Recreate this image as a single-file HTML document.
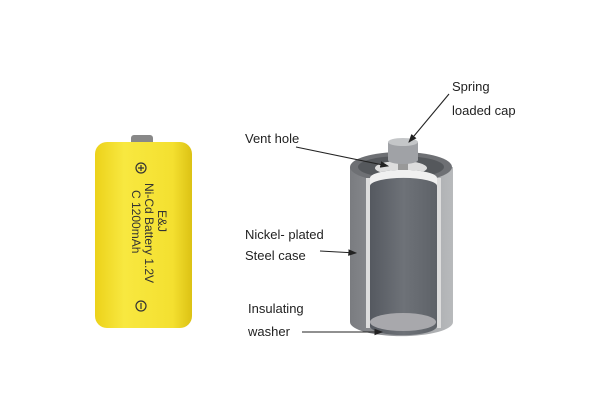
<!DOCTYPE html>
<html><head><style>
body{margin:0;width:600px;height:400px;background:#fff;overflow:hidden;font-family:"Liberation Sans",sans-serif}
</style></head><body>
<svg width="600" height="400" xmlns="http://www.w3.org/2000/svg">
<defs>
<linearGradient id="y" x1="0" x2="1"><stop offset="0" stop-color="#ecd21a"/><stop offset=".3" stop-color="#f8e840"/><stop offset=".8" stop-color="#f4e030"/><stop offset="1" stop-color="#dcc214"/></linearGradient>
<linearGradient id="g" x1="0" x2="1"><stop offset="0" stop-color="#7a7c80"/><stop offset=".5" stop-color="#9a9ca0"/><stop offset="1" stop-color="#b8babc"/></linearGradient>
<linearGradient id="in" x1="0" x2="1"><stop offset="0" stop-color="#555960"/><stop offset=".5" stop-color="#6e7278"/><stop offset="1" stop-color="#5e6268"/></linearGradient>
<marker id="a" markerWidth="8" markerHeight="8" refX="7" refY="4" orient="auto"><path d="M0,1 L8,4 L0,7z" fill="#222"/></marker>
</defs>
<rect x="131" y="135" width="22" height="10" rx="3" fill="#888"/>
<rect x="95" y="142" width="97" height="186" rx="12" fill="url(#y)"/>
<g fill="#333">
<circle cx="141" cy="168" r="5" fill="none" stroke="#333" stroke-width="1.2"/><path d="M138,168h6M141,165v6" stroke="#333" stroke-width="1.2"/>
<circle cx="141" cy="306" r="5" fill="none" stroke="#333" stroke-width="1.2"/><path d="M141,303v6" stroke="#333" stroke-width="1.2"/>
<text transform="translate(158,210) rotate(90)" font-size="12">E&amp;J</text>
<text transform="translate(145,183) rotate(90)" font-size="12">Ni-Cd Battery 1.2V</text>
<text transform="translate(132,190) rotate(90)" font-size="12">C 1200mAh</text>
</g>
<path d="M350,167 L350,322 A51,14 0 0 0 453,322 L453,167z" fill="url(#g)"/>
<ellipse cx="401" cy="167" rx="51" ry="15" fill="#6e7074"/>
<ellipse cx="401" cy="167" rx="43" ry="11" fill="#55585c"/>
<ellipse cx="401" cy="168" rx="26" ry="7" fill="#ddd"/>
<path d="M370,178 L370,326 A33,9 0 0 0 437,326 L437,178 A33,8 0 0 0 370,178z" fill="url(#in)"/>
<rect x="366" y="178" width="4" height="150" fill="#ddd"/>
<rect x="437" y="178" width="4" height="150" fill="#ddd"/>
<path d="M370,178 A33,8 0 0 1 437,178 L437,186 A33,8 0 0 0 370,186z" fill="#f0f0f0"/>
<ellipse cx="403" cy="322" rx="33" ry="9" fill="#a8a8ac"/>
<rect x="398" y="160" width="10" height="10" fill="#999"/>
<rect x="388" y="142" width="30" height="18" fill="#a0a2a6"/>
<ellipse cx="403" cy="160" rx="15" ry="4" fill="#a0a2a6"/>
<ellipse cx="403" cy="142" rx="15" ry="4" fill="#c4c6c8"/>
<g font-size="13" fill="#222">
<text x="452" y="91">Spring</text><text x="452" y="115">loaded cap</text>
<text x="245" y="143">Vent hole</text>
<text x="245" y="239">Nickel- plated</text><text x="245" y="260">Steel case</text>
<text x="248" y="313">Insulating</text><text x="248" y="336">washer</text>
</g>
<g stroke="#222" stroke-width="1.1" marker-end="url(#a)">
<line x1="449" y1="94" x2="409" y2="142"/>
<line x1="296" y1="147" x2="388" y2="166"/>
<line x1="320" y1="251" x2="356" y2="253"/>
<line x1="302" y1="332" x2="382" y2="332"/>
</g>
</svg>
</body></html>
